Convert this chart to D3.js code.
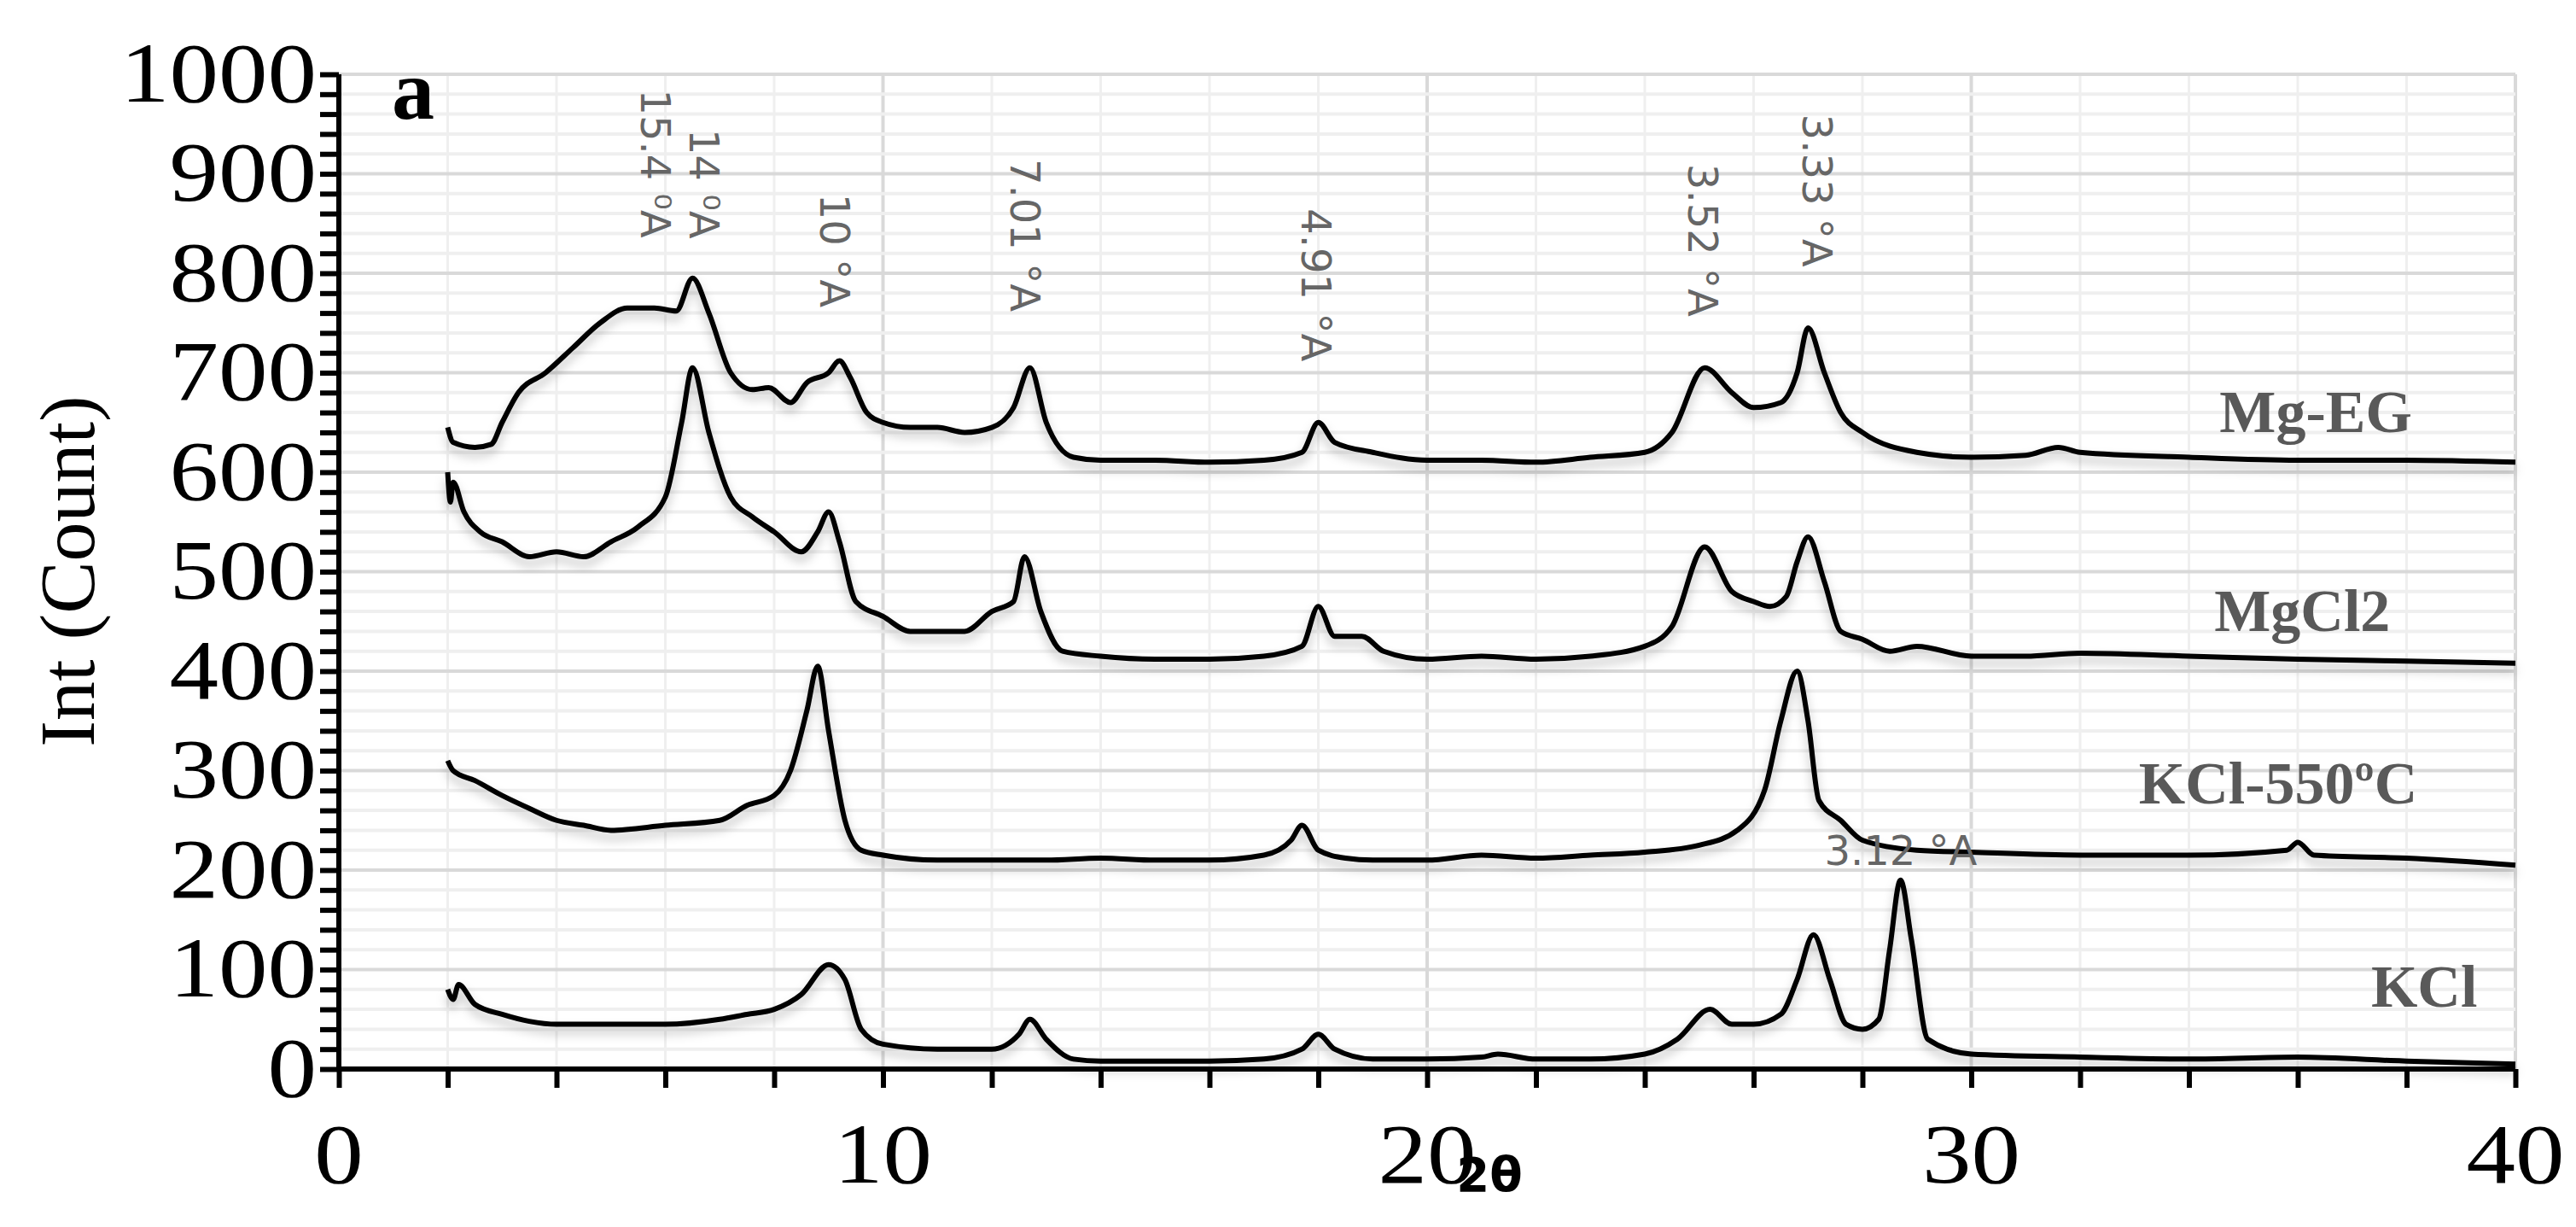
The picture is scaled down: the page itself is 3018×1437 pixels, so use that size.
<html>
<head>
<script src="https://cdn.jsdelivr.net/npm/d3@7"></script>
<style>body{margin:0;background:#fff}</style>
</head>
<body>
<svg id="svg" width="3018" height="1437"></svg>
<script>
// 2theta / count pairs
const mgEG = [[2.0,645],[2.1,630],[2.5,625],[2.8,628],[3.0,650],[3.3,680],[3.8,700],[4.3,725],[4.8,750],[5.3,765],[5.8,765],[6.2,762],[6.5,795],[6.8,760],[7.2,700],[7.6,683],[7.9,685],[8.3,670],[8.6,690],[9.0,700],[9.2,712],[9.4,695],[9.7,660],[10,650],[10.5,645],[11,645],[11.5,640],[12,645],[12.4,665],[12.7,705],[13,650],[13.5,615],[14,612],[15,612],[16,610],[17,612],[17.7,620],[18,650],[18.3,630],[19,620],[20,612],[21,612],[22,610],[23,615],[24,620],[24.5,640],[25.1,705],[25.6,680],[26,665],[26.5,670],[26.8,700],[27,745],[27.3,700],[27.6,660],[28,640],[29,620],[30,615],[31,617],[31.6,625],[32,620],[34,615],[36,612],[38,612],[40,610]];
const mgCl2 = [[2.0,600],[2.05,570],[2.1,590],[2.3,560],[2.6,540],[3,530],[3.5,515],[4,520],[4.5,515],[5,530],[5.5,545],[6,575],[6.3,650],[6.5,705],[6.8,640],[7.2,575],[7.6,555],[8,540],[8.5,520],[8.8,540],[9,560],[9.2,530],[9.5,470],[10,455],[10.5,440],[11,440],[11.5,440],[12,460],[12.4,470],[12.6,515],[12.9,460],[13.3,420],[14,415],[15,412],[16,412],[17,415],[17.7,425],[18,465],[18.3,435],[18.8,435],[19.2,420],[20,412],[21,415],[22,412],[23,415],[24,425],[24.5,445],[25.1,525],[25.6,480],[26,470],[26.3,465],[26.6,475],[26.8,510],[27,535],[27.3,490],[27.6,440],[28,432],[28.5,420],[29,425],[30,415],[31,415],[32,418],[34,415],[36,412],[38,410],[40,408]];
const kcl550 = [[2.0,310],[2.1,300],[2.5,290],[3,275],[3.5,262],[4,250],[4.5,245],[5,240],[6,245],[7,250],[7.5,265],[8,275],[8.3,300],[8.6,360],[8.8,405],[9,340],[9.3,250],[9.6,220],[10,215],[11,210],[12,210],[13,210],[14,212],[15,210],[16,210],[17,215],[17.5,230],[17.7,245],[18,220],[18.5,212],[19,210],[20,210],[21,215],[22,212],[23,215],[24,218],[25,225],[25.7,240],[26.2,280],[26.5,350],[26.8,400],[27,350],[27.2,270],[27.6,250],[28,230],[29,220],[30,218],[32,215],[34,215],[35.8,220],[36,228],[36.3,215],[38,212],[40,205]];
const kcl = [[2.0,80],[2.1,70],[2.2,85],[2.5,65],[3,55],[3.5,48],[4,45],[5,45],[6,45],[7,50],[7.5,55],[8,60],[8.5,75],[9,105],[9.3,90],[9.6,40],[10,25],[11,20],[12,20],[12.5,35],[12.7,50],[13,30],[13.5,10],[14,8],[15,8],[16,8],[17,10],[17.7,20],[18,35],[18.3,20],[19,10],[20,10],[21,12],[21.3,15],[22,10],[23,10],[24,15],[24.6,30],[25.2,60],[25.6,45],[26,45],[26.5,55],[26.8,90],[27.1,135],[27.4,90],[27.7,45],[28,40],[28.3,50],[28.5,120],[28.7,190],[28.9,130],[29.2,30],[30,15],[32,12],[34,10],[36,12],[38,8],[40,5]];
const seriesData = [mgEG, mgCl2, kcl550, kcl];
const seriesNames = ["Mg-EG", "MgCl2", "KCl-550ºC", "KCl"];
const nameAt = [[38.1,640],[37.7,440],[38.2,267],[39.3,63]];
// d-spacing labels: text, 2theta, count at top of vertical text
const peakText = ["15.4 ⁰A", "14 ⁰A", "10 °A", "7.01 °A", "4.91 °A", "3.52 °A", "3.33 °A"];
const peakX = [5.55, 6.45, 8.85, 12.35, 17.7, 24.8, 26.9];
const peakY = [985, 945, 880, 915, 865, 910, 960];
const xTicks = [0, 10, 20, 30, 40];
const yTicks = [0,100,200,300,400,500,600,700,800,900,1000];

const svg = d3.select("#svg");
const L = 397, R = 2947, T = 87, B = 1252;
const x = d3.scaleLinear().domain([0, 40]).range([L, R]);
const y = d3.scaleLinear().domain([0, 1000]).range([B, T]);

const defs = svg.append("defs");
defs.append("filter").attr("id", "sh").attr("x", "-5%").attr("y", "-20%").attr("width", "110%").attr("height", "140%")
  .append("feDropShadow").attr("dx", 0).attr("dy", 8).attr("stdDeviation", 6)
  .attr("flood-color", "#000").attr("flood-opacity", 0.25);

// grid
const g = svg.append("g");
g.selectAll(".vm").data(d3.range(0, 41, 2)).join("line")
  .attr("x1", d => x(d)).attr("x2", d => x(d)).attr("y1", T).attr("y2", B)
  .attr("stroke", d => d % 10 === 0 ? "#d9d9d9" : "#efefef").attr("stroke-width", d => d % 10 === 0 ? 4 : 3);
g.selectAll(".hm").data(d3.range(0, 1001, 20)).join("line")
  .attr("x1", L).attr("x2", R).attr("y1", d => y(d)).attr("y2", d => y(d))
  .attr("stroke", d => d % 100 === 0 ? "#d9d9d9" : "#efefef").attr("stroke-width", 4);

// axes
const yAx = svg.append("g").attr("transform", `translate(${L},0)`)
  .call(d3.axisLeft(y).tickValues(d3.range(0, 1001, 20)).tickSize(22).tickFormat(""));
yAx.selectAll("line").attr("stroke", "#000").attr("stroke-width", 6);
yAx.select(".domain").attr("stroke-width", 6).attr("d", `M0,${B}V${T}`);
const xAx = svg.append("g").attr("transform", `translate(0,${B})`)
  .call(d3.axisBottom(x).tickValues(d3.range(0, 41, 2)).tickSize(22).tickFormat(""));
xAx.selectAll("line").attr("stroke", "#000").attr("stroke-width", 6);
xAx.select(".domain").attr("stroke-width", 6).attr("d", `M${L},0H${R}`);

svg.selectAll(".yl").data(yTicks).join("text")
  .attr("x", 371).attr("y", d => y(d) + 32).attr("text-anchor", "end")
  .attr("font-family", "Liberation Serif").attr("font-size", 100)
  .attr("transform", `translate(371,0) scale(1.15,1) translate(-371,0)`).text(d => d);
svg.selectAll(".xl").data(xTicks).join("text")
  .attr("x", d => x(d)).attr("y", 1385).attr("text-anchor", "middle")
  .attr("font-family", "Liberation Serif").attr("font-size", 100)
  .attr("transform", d => `translate(${x(d)},0) scale(1.15,1) translate(${-x(d)},0)`).text(d => d);

svg.append("text").attr("transform", "translate(110,669) rotate(-90)")
  .attr("text-anchor", "middle").attr("font-family", "Liberation Serif").attr("font-size", 92).text("Int (Count)");
svg.append("text").attr("x", 1745).attr("y", 1395).attr("text-anchor", "middle")
  .attr("font-family", "DejaVu Sans").attr("font-weight", "bold").attr("font-size", 56).text("2θ");
svg.append("text").attr("x", 459).attr("y", 139)
  .attr("font-family", "Liberation Serif").attr("font-weight", "bold").attr("font-size", 100).text("a");

// curves
const line = d3.line().x(d => x(d[0])).y(d => y(d[1])).curve(d3.curveMonotoneX);
svg.selectAll(".s").data(seriesData).join("path")
  .attr("d", line).attr("fill", "none").attr("stroke", "#000")
  .attr("stroke-width", 6).attr("stroke-linejoin", "round").attr("filter", "url(#sh)");

svg.selectAll(".nm").data(seriesNames).join("text")
  .attr("x", (d, i) => x(nameAt[i][0])).attr("y", (d, i) => y(nameAt[i][1]))
  .attr("text-anchor", "end").attr("fill", "#595959")
  .attr("font-family", "Liberation Serif").attr("font-weight", "bold").attr("font-size", 70)
  .text(d => d);

svg.selectAll(".pk").data(peakText).join("text")
  .attr("transform", (d, i) => `translate(${x(peakX[i])},${y(peakY[i])}) rotate(90)`)
  .attr("fill", "#666").attr("font-family", "DejaVu Sans").attr("font-size", 48)
  .text(d => d);
svg.append("text").attr("x", x(27.3)).attr("y", y(205))
  .attr("fill", "#666").attr("font-family", "DejaVu Sans").attr("font-size", 48).text("3.12 °A");
</script>
</body>
</html>
